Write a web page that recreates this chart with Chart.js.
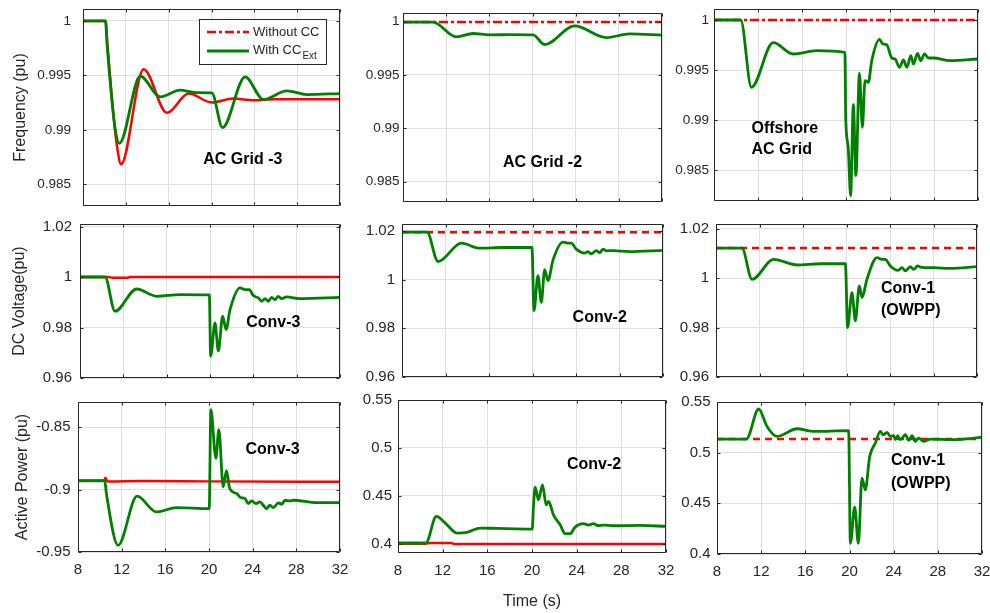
<!DOCTYPE html>
<html>
<head>
<meta charset="utf-8">
<title>Frequency, DC voltage and active power</title>
<script src="https://cdn.jsdelivr.net/npm/chart.js@4.4.0/dist/chart.umd.min.js"></script>
<style>
  html, body { margin: 0; padding: 0; background: #fff; }
  #fig { position: relative; width: 990px; height: 613px; overflow: hidden; background: #fff; }
  #fig canvas { position: absolute; }
</style>
</head>
<body>
<div id="fig"></div>
<script>
// shared time axis (s)
const timeTicks = [8, 12, 16, 20, 24, 28, 32];

// ---- Frequency, AC Grid -3
const freqG3Ticks = [0.985, 0.99, 0.995, 1];
const freqG3TimeCC = [8, 10.1, 10.24, 10.7, 11.02, 11.39, 13.35, 15.21, 17.08, 18.5, 20.03, 21.03, 23.14, 24.85, 27.03, 28.9, 32];
const freqG3CC = [1, 1, 0.99792, 0.99272, 0.98997, 0.98875, 0.99492, 0.99303, 0.99364, 0.99342, 0.9934, 0.99021, 0.99486, 0.99278, 0.99358, 0.99324, 0.99333];
const freqG3TimeNoCC = [8, 10.1, 10.3, 10.86, 11.23, 11.55, 13.66, 15.84, 17.86, 20.03, 22.05, 23.9, 26, 32];
const freqG3NoCC = [1, 1, 0.99761, 0.99119, 0.98813, 0.98683, 0.99557, 0.99156, 0.99333, 0.99251, 0.99287, 0.99272, 0.99281, 0.99281];

// ---- Frequency, AC Grid -2
const freqG2Ticks = [0.985, 0.99, 0.995, 1];
const freqG2TimeCC = [8, 10.78, 12.94, 14.49, 16.03, 18, 20.05, 21.13, 23.9, 26.84, 29, 32];
const freqG2CC = [0.99995, 0.99995, 0.99856, 0.99888, 0.99875, 0.99878, 0.99875, 0.99784, 0.99959, 0.9985, 0.99884, 0.99872];
const freqG2TimeNoCC = [8, 32];
const freqG2NoCC = [0.99995, 0.99995];

// ---- Frequency, Offshore AC Grid
const freqOffTicks = [0.985, 0.99, 0.995, 1];
const freqOffTimeCC = [8, 10.43, 11.4, 13.38, 15.2, 17.33, 19.9, 19.98, 20.2, 20.42, 20.67, 20.9, 21.22, 21.49, 21.73, 22.03, 22.34, 23.04, 23.34, 23.7, 24.16, 24.46, 24.86, 25.22, 25.53, 25.89, 26.14, 26.5, 26.8, 27.14, 27.5, 27.96, 29.47, 32];
const freqOffCC = [1, 1, 0.99327, 0.99773, 0.9966, 0.99693, 0.99677, 0.9901, 0.98727, 0.98243, 0.99153, 0.98443, 0.99467, 0.98927, 0.99393, 0.99377, 0.99593, 0.99807, 0.9976, 0.99753, 0.9962, 0.9961, 0.99527, 0.996, 0.99527, 0.99643, 0.9956, 0.99667, 0.99593, 0.9966, 0.9962, 0.9962, 0.99593, 0.9961];
const freqOffTimeNoCC = [8, 32];
const freqOffNoCC = [1, 1];

// ---- DC voltage, Conv-3
const vdc3Ticks = [0.96, 0.98, 1, 1.02];
const vdc3TimeCC = [8, 10.31, 11.23, 13.23, 15.08, 17.23, 19.94, 20.06, 20.46, 20.77, 21.17, 21.48, 21.85, 22.77, 23.23, 23.63, 24, 24.46, 24.77, 25.08, 25.38, 25.69, 26, 26.3, 26.6, 27.08, 28.3, 32];
const vdc3CC = [1, 1, 0.98645, 0.99526, 0.99237, 0.99303, 0.9929, 0.96868, 0.98184, 0.97066, 0.98447, 0.97921, 0.9871, 0.99566, 0.995, 0.995, 0.99263, 0.99171, 0.9904, 0.99145, 0.9904, 0.99197, 0.99105, 0.99237, 0.99145, 0.9921, 0.99145, 0.99197];
const vdc3TimeNoCC = [8, 10.6, 11, 12.4, 12.6, 32];
const vdc3NoCC = [1, 1, 0.9997, 0.9997, 1, 1];

// ---- DC voltage, Conv-2
const vdc2Ticks = [0.96, 0.98, 1, 1.02];
const vdc2TimeCC = [8, 10.3, 11.31, 13.46, 15.14, 17.29, 19.95, 20.14, 20.5, 20.81, 21.12, 21.42, 21.89, 22.8, 23.26, 23.57, 24.03, 24.8, 25.1, 25.4, 25.87, 26.18, 26.48, 26.79, 27.4, 28.9, 32];
const vdc2CC = [1.01945, 1.01945, 1.0074, 1.01493, 1.01288, 1.01315, 1.01315, 0.98726, 1.00164, 0.99068, 1.00411, 0.99959, 1.00808, 1.01534, 1.01493, 1.01493, 1.01247, 1.01082, 1.0115, 1.0105, 1.0119, 1.011, 1.0125, 1.0118, 1.0119, 1.0115, 1.012];
const vdc2TimeNoCC = [8, 32];
const vdc2NoCC = [1.01945, 1.01945];

// ---- DC voltage, Conv-1 (OWPP)
const vdc1Ticks = [0.96, 0.98, 1, 1.02];
const vdc1TimeCC = [8, 10.39, 11.31, 13.3, 15.45, 17.6, 19.9, 20.1, 20.5, 20.81, 21.18, 21.43, 21.88, 22.8, 23.26, 23.57, 24.03, 24.74, 25.1, 25.4, 25.87, 26.18, 26.54, 26.94, 28, 29.55, 32];
const vdc1CC = [1.0122, 1.0122, 0.9996, 1.00768, 1.00539, 1.0059, 1.0059, 0.98, 0.99421, 0.98276, 0.9969, 0.99219, 0.9996, 1.00835, 1.00768, 1.00768, 1.005, 1.00323, 1.0043, 1.003, 1.0047, 1.0036, 1.005, 1.0044, 1.0043, 1.004, 1.0047];
const vdc1TimeNoCC = [8, 32];
const vdc1NoCC = [1.0123, 1.0123];

// ---- Active power, Conv-3
const p3Ticks = [-0.95, -0.9, -0.85];
const p3TimeCC = [8, 10.45, 10.6, 11.67, 13.41, 15.19, 17.02, 20.02, 20.17, 20.63, 20.9, 21.3, 21.6, 21.9, 22.53, 22.89, 23.29, 23.6, 23.9, 24.3, 24.67, 24.97, 25.28, 25.58, 25.89, 26.35, 26.66, 26.96, 27.42, 27.7, 29.87, 32];
const p3CC = [-0.893, -0.893, -0.9032, -0.94464, -0.90536, -0.91796, -0.91448, -0.91528, -0.83606, -0.87507, -0.85214, -0.89786, -0.88499, -0.8992, -0.90322, -0.90643, -0.90724, -0.91126, -0.9091, -0.91126, -0.9099, -0.9126, -0.9153, -0.9126, -0.9145, -0.9107, -0.9118, -0.9086, -0.9091, -0.9086, -0.9105, -0.9105];
const p3TimeNoCC = [8, 10.4, 10.5, 10.7, 14, 20, 32];
const p3NoCC = [-0.893, -0.893, -0.8905, -0.8935, -0.8932, -0.8935, -0.8938];

// ---- Active power, Conv-2
const p2Ticks = [0.4, 0.45, 0.5, 0.55];
const p2TimeCC = [8, 10.5, 11.43, 12.23, 13.28, 14.17, 15.36, 16.85, 20.02, 20.13, 20.28, 20.58, 20.94, 21.27, 21.48, 21.92, 22.52, 22.97, 23.41, 23.86, 24.6, 25.05, 25.5, 25.95, 26.4, 27.29, 29.68, 32];
const p2CC = [0.401, 0.401, 0.4287, 0.4218, 0.4114, 0.4121, 0.4166, 0.4162, 0.4155, 0.4391, 0.4592, 0.446, 0.4616, 0.4408, 0.4443, 0.4304, 0.42, 0.4107, 0.4107, 0.4176, 0.4211, 0.4197, 0.4211, 0.419, 0.4197, 0.419, 0.4194, 0.4183];
const p2TimeNoCC = [8, 10.5, 10.8, 12.8, 13, 32];
const p2NoCC = [0.4003, 0.4003, 0.401, 0.401, 0.4, 0.4];

// ---- Active power, Conv-1 (OWPP)
const p1Ticks = [0.4, 0.45, 0.5, 0.55];
const p1TimeCC = [8, 10.66, 11.77, 12.53, 13.43, 15.25, 16.75, 19.92, 20.08, 20.47, 20.8, 21.13, 21.43, 21.83, 22.34, 22.79, 23.03, 23.4, 23.7, 24.0, 24.15, 24.36, 24.6, 25.06, 25.36, 25.66, 25.96, 26.26, 26.72, 27.32, 29.43, 32];
const p1CC = [0.5134, 0.5134, 0.5431, 0.5259, 0.516, 0.5236, 0.521, 0.5217, 0.4106, 0.4462, 0.4106, 0.4749, 0.4633, 0.4963, 0.5095, 0.521, 0.5177, 0.52, 0.5161, 0.5167, 0.5128, 0.5167, 0.5128, 0.5177, 0.5121, 0.5167, 0.5111, 0.5144, 0.5111, 0.5134, 0.5128, 0.5151];
const p1TimeNoCC = [8, 32];
const p1NoCC = [0.5134, 0.5134];

const legendLabels = ['Without CC', 'With CC'];
const legendSub = 'Ext';

const FONT = "'Liberation Sans', Arial, Helvetica, sans-serif";
const INK = '#262626';
const GREEN = '#008000';
const RED = '#ff0000';
const DASHDOT = [9, 3, 3, 3];
const DASHED = [7, 5];

function series(t, v) {
    return t.map((x, i) => ({ x: x, y: v[i] }));
}

// rect = plot area [left, top, right, bottom] in page pixels
const panels = [
    { row: 1, col: 1, rect: [83, 9, 340, 206], yMin: 0.983, yMax: 1.0011, yTicks: freqG3Ticks,
      cc: [freqG3TimeCC, freqG3CC], noCC: [freqG3TimeNoCC, freqG3NoCC], dash: [],
      tickSize: 13.5, tickPad: 12, yTitle: 'Frequency (pu)', yTitlePad: 11, legend: true,
      notes: [{ text: ['AC Grid -3'], x: 22.93, y: 0.98728, align: 'center' }] },
    { row: 1, col: 2, rect: [403, 13, 662, 202], yMin: 0.9831, yMax: 1.0008, yTicks: freqG2Ticks,
      cc: [freqG2TimeCC, freqG2CC], noCC: [freqG2TimeNoCC, freqG2NoCC], dash: DASHDOT,
      tickSize: 13.5, tickPad: 3.5,
      notes: [{ text: ['AC Grid -2'], x: 20.93, y: 0.98675, align: 'center' }] },
    { row: 1, col: 3, rect: [714, 9, 978, 201], yMin: 0.9819, yMax: 1.0011, yTicks: freqOffTicks,
      cc: [freqOffTimeCC, freqOffCC], noCC: [freqOffTimeNoCC, freqOffNoCC], dash: DASHDOT,
      tickSize: 13.5, tickPad: 5,
      notes: [{ text: ['Offshore', 'AC Grid'], x: 11.41, y: 0.9891, align: 'left', gap: 21 }] },
    { row: 2, col: 1, rect: [80, 224, 340, 378], yMin: 0.96, yMax: 1.021, yTicks: vdc3Ticks,
      cc: [vdc3TimeCC, vdc3CC], noCC: [vdc3TimeNoCC, vdc3NoCC], dash: [],
      tickSize: 15, tickPad: 8, yTitle: 'DC Voltage(pu)', yTitlePad: 10,
      notes: [{ text: ['Conv-3'], x: 25.85, y: 0.98209, align: 'center' }] },
    { row: 2, col: 2, rect: [402, 224, 663, 377], yMin: 0.96, yMax: 1.0228, yTicks: vdc2Ticks,
      cc: [vdc2TimeCC, vdc2CC], noCC: [vdc2TimeNoCC, vdc2NoCC], dash: DASHED,
      tickSize: 15, tickPad: 7,
      notes: [{ text: ['Conv-2'], x: 26.18, y: 0.98424, align: 'center' }] },
    { row: 2, col: 3, rect: [716, 224, 977, 377], yMin: 0.96, yMax: 1.022, yTicks: vdc1Ticks,
      cc: [vdc1TimeCC, vdc1CC], noCC: [vdc1TimeNoCC, vdc1NoCC], dash: DASHED,
      tickSize: 15, tickPad: 7,
      notes: [{ text: ['Conv-1', '(OWPP)'], x: 23.17, y: 0.9958, align: 'left', gap: 22 }] },
    { row: 3, col: 1, rect: [78, 402, 340, 552], yMin: -0.95, yMax: -0.83, yTicks: p3Ticks,
      cc: [p3TimeCC, p3CC], noCC: [p3TimeNoCC, p3NoCC], dash: [],
      tickSize: 15, tickPad: 7.5, yTitle: 'Active Power (pu)', yTitlePad: 12.5,
      notes: [{ text: ['Conv-3'], x: 25.83, y: -0.86774, align: 'center' }] },
    { row: 3, col: 2, rect: [398, 400, 666, 553], yMin: 0.3906, yMax: 0.55, yTicks: p2Ticks,
      cc: [p2TimeCC, p2CC], noCC: [p2TimeNoCC, p2NoCC], dash: [],
      tickSize: 15, tickPad: 6, xTitle: 'Time (s)',
      notes: [{ text: ['Conv-2'], x: 25.56, y: 0.4826, align: 'center' }] },
    { row: 3, col: 3, rect: [717, 402, 982, 554], yMin: 0.4, yMax: 0.55, yTicks: p1Ticks,
      cc: [p1TimeCC, p1CC], noCC: [p1TimeNoCC, p1NoCC], dash: DASHED,
      tickSize: 15, tickPad: 6.5,
      notes: [{ text: ['Conv-1', '(OWPP)'], x: 23.76, y: 0.4917, align: 'left', gap: 23 }] }
];

// bold annotations inside the axes
const notesPlugin = {
    id: 'notes',
    afterDatasetsDraw(chart, args, opts) {
        const ctx = chart.ctx;
        (opts.items || []).forEach(n => {
            const x = chart.scales.x.getPixelForValue(n.x);
            const y = chart.scales.y.getPixelForValue(n.y);
            ctx.save();
            ctx.font = 'bold 16px ' + FONT;
            ctx.fillStyle = '#000';
            ctx.textAlign = n.align;
            ctx.textBaseline = 'middle';
            n.text.forEach((line, i) => ctx.fillText(line, x, y + i * (n.gap || 0)));
            ctx.restore();
        });
    }
};

// MATLAB style box with inward ticks
const boxPlugin = {
    id: 'box',
    afterDatasetsDraw(chart) {
        const { left, top, right, bottom } = chart.chartArea;
        const ctx = chart.ctx;
        const L = Math.round(left) + 0.5, T = Math.round(top) + 0.5;
        const R = Math.round(right) - 0.5, B = Math.round(bottom) - 0.5;
        ctx.save();
        ctx.strokeStyle = INK;
        ctx.lineWidth = 1;
        ctx.beginPath();
        chart.scales.x.ticks.forEach(tk => {
            const x = Math.round(chart.scales.x.getPixelForValue(tk.value)) + 0.5;
            ctx.moveTo(x, B); ctx.lineTo(x, B - 3);
            ctx.moveTo(x, T); ctx.lineTo(x, T + 3);
        });
        chart.scales.y.ticks.forEach(tk => {
            const y = Math.round(chart.scales.y.getPixelForValue(tk.value)) + 0.5;
            ctx.moveTo(L, y); ctx.lineTo(L + 3, y);
            ctx.moveTo(R, y); ctx.lineTo(R - 3, y);
        });
        ctx.rect(L, T, R - L, B - T);
        ctx.stroke();
        ctx.restore();
    }
};

// legend box of the first panel (subscript needs manual drawing)
const ccLegendPlugin = {
    id: 'ccLegend',
    afterDraw(chart, args, opts) {
        if (!opts.show) return;
        const ctx = chart.ctx;
        const a = chart.chartArea;
        const x0 = a.left + 116, y0 = a.top + 10, w = 127, h = 45;
        ctx.save();
        ctx.fillStyle = '#fff';
        ctx.fillRect(x0, y0, w, h);
        ctx.strokeStyle = INK;
        ctx.lineWidth = 1;
        ctx.strokeRect(x0 + 0.5, y0 + 0.5, w, h);
        ctx.lineWidth = 2.5;
        ctx.strokeStyle = RED;
        ctx.setLineDash(DASHDOT);
        ctx.beginPath(); ctx.moveTo(x0 + 8, y0 + 13); ctx.lineTo(x0 + 50, y0 + 13); ctx.stroke();
        ctx.setLineDash([]);
        ctx.lineWidth = 3;
        ctx.strokeStyle = GREEN;
        ctx.beginPath(); ctx.moveTo(x0 + 8, y0 + 32); ctx.lineTo(x0 + 50, y0 + 32); ctx.stroke();
        ctx.fillStyle = INK;
        ctx.font = '13px ' + FONT;
        ctx.textAlign = 'left';
        ctx.textBaseline = 'middle';
        ctx.fillText(legendLabels[0], x0 + 54, y0 + 13);
        ctx.fillText(legendLabels[1], x0 + 54, y0 + 31);
        const wcc = ctx.measureText(legendLabels[1]).width;
        ctx.font = '10px ' + FONT;
        ctx.fillText(legendSub, x0 + 55 + wcc, y0 + 37);
        ctx.restore();
    }
};

const fig = document.getElementById('fig');

panels.forEach(function (p) {
    const [l, t, r, b] = p.rect;
    const row3 = p.row === 3;
    const axisW = p.col === 1 ? l : 56;
    const padT = 12, padR = 14;
    const padB = row3 ? 0 : 10;
    const axisH = row3 ? 613 - b : 2;

    const canvas = document.createElement('canvas');
    canvas.width = axisW + (r - l) + padR;
    canvas.height = padT + (b - t) + axisH + padB;
    canvas.style.width = canvas.width + 'px';
    canvas.style.height = canvas.height + 'px';
    canvas.style.left = (l - axisW) + 'px';
    canvas.style.top = (t - padT) + 'px';
    fig.appendChild(canvas);

    new Chart(canvas.getContext('2d'), {
        type: 'line',
        data: {
            datasets: [
                {
                    label: 'With CC Ext',
                    data: series(p.cc[0], p.cc[1]),
                    borderColor: GREEN,
                    borderWidth: 2.8,
                    pointRadius: 0,
                    cubicInterpolationMode: 'monotone',
                    borderJoinStyle: 'round'
                },
                {
                    label: 'Without CC',
                    data: series(p.noCC[0], p.noCC[1]),
                    borderColor: RED,
                    borderWidth: 2.5,
                    borderDash: p.dash,
                    pointRadius: 0,
                    cubicInterpolationMode: 'monotone'
                }
            ]
        },
        options: {
            responsive: false,
            maintainAspectRatio: false,
            animation: false,
            events: [],
            layout: { padding: { top: padT, right: padR, bottom: padB, left: 0 } },
            scales: {
                x: {
                    type: 'linear',
                    min: 8,
                    max: 32,
                    afterBuildTicks: s => { s.ticks = timeTicks.map(v => ({ value: v })); },
                    afterFit: s => { s.height = axisH; s.paddingLeft = 0; s.paddingRight = 0; },
                    grid: { color: '#dfdfdf', drawTicks: false },
                    border: { display: false },
                    ticks: { display: row3, padding: 9, color: INK, font: { family: FONT, size: 15 }, maxRotation: 0 },
                    title: {
                        display: !!p.xTitle,
                        text: p.xTitle || '',
                        color: INK,
                        font: { family: FONT, size: 16 },
                        padding: { top: 0, bottom: 2 }
                    }
                },
                y: {
                    type: 'linear',
                    min: p.yMin,
                    max: p.yMax,
                    afterBuildTicks: s => { s.ticks = p.yTicks.map(v => ({ value: v })); },
                    afterFit: s => { s.width = axisW; s.paddingTop = 0; s.paddingBottom = 0; },
                    grid: { color: '#dfdfdf', drawTicks: false },
                    border: { display: false },
                    ticks: {
                        padding: p.tickPad,
                        color: INK,
                        font: { family: FONT, size: p.tickSize },
                        callback: v => String(+v.toFixed(4))
                    },
                    title: {
                        display: !!p.yTitle,
                        text: p.yTitle || '',
                        color: INK,
                        font: { family: FONT, size: 16 },
                        padding: { top: p.yTitlePad || 0, bottom: 0 }
                    }
                }
            },
            plugins: {
                legend: { display: false },
                tooltip: { enabled: false },
                notes: { items: p.notes },
                ccLegend: { show: !!p.legend }
            }
        },
        plugins: [boxPlugin, notesPlugin, ccLegendPlugin]
    });
});
</script>
</body>
</html>
